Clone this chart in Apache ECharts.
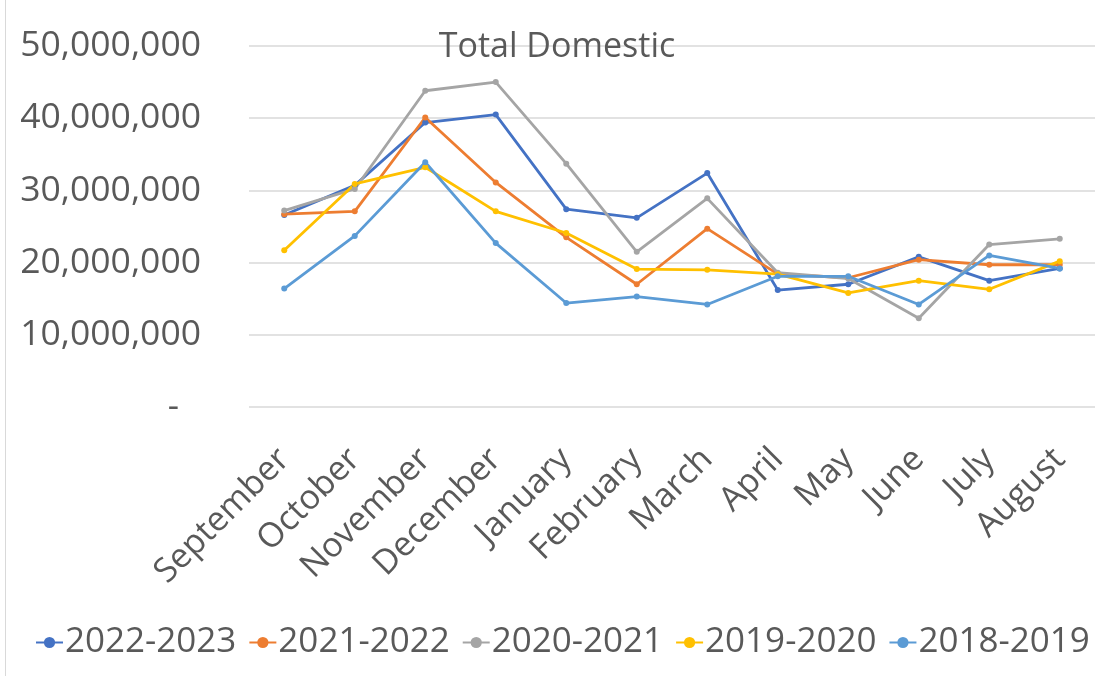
<!DOCTYPE html>
<html>
<head>
<meta charset="utf-8">
<script src="https://cdn.jsdelivr.net/npm/echarts@6/dist/echarts.min.js"></script>
<style>
  html, body { margin: 0; padding: 0; background: #fff; }
  #main { width: 1095px; height: 676px; }
</style>
</head>
<body>
<div id="main"></div>
<script>
var months = ["September", "October", "November", "December", "January", "February",
  "March", "April", "May", "June", "July", "August"];

var fy2022_2023 = [26600000, 30700000, 39400000, 40500000, 27400000, 26200000,
  32400000, 16200000, 17000000, 20800000, 17500000, 19200000];
var fy2021_2022 = [26700000, 27100000, 40100000, 31100000, 23500000, 17000000,
  24700000, 18400000, 17900000, 20400000, 19700000, 19700000];
var fy2020_2021 = [27200000, 30200000, 43800000, 45000000, 33700000, 21500000,
  28900000, 18600000, 17800000, 12300000, 22500000, 23300000];
var fy2019_2020 = [21700000, 30900000, 33200000, 27100000, 24100000, 19100000,
  19000000, 18400000, 15800000, 17500000, 16300000, 20200000];
var fy2018_2019 = [16400000, 23700000, 33900000, 22700000, 14400000, 15300000,
  14200000, 18100000, 18100000, 14200000, 21000000, 19200000];

var seriesNames = ["2022-2023", "2021-2022", "2020-2021", "2019-2020", "2018-2019"];
var seriesData = [fy2022_2023, fy2021_2022, fy2020_2021, fy2019_2020, fy2018_2019];
var colors = ["#4472C4", "#ED7D31", "#A5A5A5", "#FFC000", "#5B9BD5"];

var textColor = "#595959";
var font = "Open Sans";

var myChart = echarts.init(document.getElementById("main"));

var series = seriesNames.map(function(name, i) {
  return {
    name: name,
    type: "line",
    data: seriesData[i],
    symbol: "circle",
    symbolSize: 6,
    lineStyle: { width: 2.8, color: colors[i] },
    itemStyle: { color: colors[i] }
  };
});

myChart.setOption({
  backgroundColor: "#fff",
  animation: false,
  color: colors,
  title: {
    text: "Total Domestic",
    left: 552,
    textAlign: "center",
    top: 25,
    textStyle: { color: textColor, fontFamily: font, fontSize: 34, fontWeight: "normal" }
  },
  legend: {
    left: 30,
    top: 620,
    width: 1060,
    itemWidth: 27,
    itemHeight: 14,
    itemGap: 12,
    textStyle: { color: textColor, fontFamily: font, fontSize: 35, padding: [0, 0, 0, -3] },
    data: seriesNames
  },
  grid: {
    left: 249,
    right: -2,
    top: 46,
    bottom: 269
  },
  xAxis: {
    type: "category",
    data: months,
    boundaryGap: true,
    axisLine: { show: false },
    axisTick: { show: false },
    axisLabel: {
      rotate: 45,
      interval: 0,
      margin: 47,
      color: textColor,
      fontFamily: font,
      fontSize: 34
    }
  },
  yAxis: {
    type: "value",
    min: 0,
    max: 50000000,
    interval: 10000000,
    axisLine: { show: false },
    axisTick: { show: false },
    splitLine: { lineStyle: { color: "#D9D9D9", width: 1.5 } },
    axisLabel: {
      margin: 48,
      color: textColor,
      fontFamily: font,
      fontSize: 35.5,
      formatter: function(v) {
        if (v === 0) return "{dash|-}";
        return v.toLocaleString("en-US");
      },
      rich: {
        dash: { color: textColor, fontFamily: font, fontSize: 35, padding: [0, 22, 0, 0] }
      }
    }
  },
  graphic: [
    {
      type: "line",
      shape: { x1: 5.5, y1: 0, x2: 5.5, y2: 676 },
      style: { stroke: "#D9D9D9", lineWidth: 1 }
    }
  ],
  series: series
});
</script>
</body>
</html>
